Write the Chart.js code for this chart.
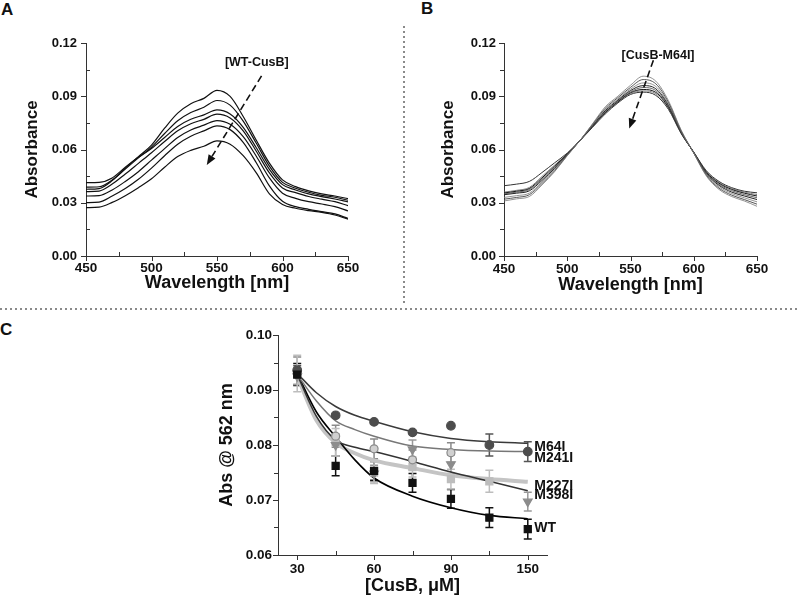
<!DOCTYPE html>
<html><head><meta charset="utf-8">
<script src="https://cdn.jsdelivr.net/npm/chart.js@4.4.1/dist/chart.umd.min.js"></script>
<style>
html,body{margin:0;padding:0;background:#fff;}
body{width:800px;height:597px;position:relative;overflow:hidden;font-family:"Liberation Sans",Arial,sans-serif;}
canvas{position:absolute;}
.lab{position:absolute;font-weight:bold;font-size:17px;line-height:17px;color:#111;}
.vdot{position:absolute;left:403px;top:26px;width:2px;height:280px;background:repeating-linear-gradient(to bottom,#8a8a8a 0 2px,transparent 2px 5px);}
.hdot{position:absolute;left:0;top:308px;width:800px;height:2px;background:repeating-linear-gradient(to right,#8a8a8a 0 2px,transparent 2px 5px);}
</style></head>
<body>
<div class="lab" style="left:1px;top:1px">A</div>
<div class="lab" style="left:421px;top:0px">B</div>
<div class="lab" style="left:0px;top:321px">C</div>
<div class="vdot"></div>
<div class="hdot"></div>
<canvas id="cA" width="400" height="300" style="left:0;top:0"></canvas>
<canvas id="cB" width="400" height="300" style="left:400px;top:0"></canvas>
<canvas id="cC" width="400" height="277" style="left:200px;top:320px"></canvas>
<script>
// ---------- Data ----------
const wavelengths = [450,460,470,480,490,500,510,520,530,540,550,560,570,580,590,600,610,620,630,640,650];
// Panel A: WT-CusB titration spectra (absorbance)
const wtSpec1 = [0.0376,0.0380,0.0425,0.0495,0.0560,0.0625,0.0720,0.0805,0.0858,0.0888,0.0933,0.0899,0.0786,0.0652,0.0523,0.0429,0.0391,0.0367,0.0350,0.0338,0.0323];
const wtSpec2 = [0.0388,0.0390,0.0428,0.0490,0.0553,0.0613,0.0690,0.0762,0.0808,0.0838,0.0876,0.0850,0.0760,0.0635,0.0506,0.0415,0.0382,0.0359,0.0342,0.0331,0.0314];
const wtSpec3 = [0.0413,0.0415,0.0440,0.0500,0.0556,0.0606,0.0668,0.0730,0.0770,0.0795,0.0823,0.0800,0.0725,0.0610,0.0488,0.0402,0.0372,0.0350,0.0335,0.0321,0.0305];
const wtSpec4 = [0.0363,0.0366,0.0405,0.0462,0.0522,0.0582,0.0645,0.0705,0.0745,0.0770,0.0799,0.0778,0.0705,0.0590,0.0468,0.0383,0.0357,0.0335,0.0320,0.0306,0.0284];
const wtSpec5 = [0.0338,0.0340,0.0372,0.0420,0.0475,0.0540,0.0605,0.0668,0.0710,0.0737,0.0763,0.0742,0.0672,0.0562,0.0440,0.0354,0.0325,0.0306,0.0293,0.0278,0.0254];
const wtSpec6 = [0.0301,0.0304,0.0338,0.0380,0.0432,0.0495,0.0565,0.0630,0.0675,0.0705,0.0733,0.0712,0.0640,0.0525,0.0395,0.0308,0.0278,0.0263,0.0250,0.0237,0.0212];
const wtSpec7 = [0.0272,0.0275,0.0302,0.0340,0.0385,0.0435,0.0500,0.0560,0.0595,0.0618,0.0649,0.0630,0.0565,0.0468,0.0350,0.0290,0.0269,0.0256,0.0246,0.0231,0.0207];
// Panel B: CusB-M64I titration spectra
const m64Spec1 = [0.0310,0.0322,0.0335,0.0400,0.0475,0.0565,0.0650,0.0745,0.0840,0.0900,0.0962,0.1013,0.0985,0.0875,0.0710,0.0580,0.0450,0.0375,0.0335,0.0310,0.0280];
const m64Spec2 = [0.0320,0.0330,0.0345,0.0408,0.0480,0.0567,0.0650,0.0742,0.0832,0.0892,0.0950,0.0994,0.0970,0.0866,0.0706,0.0580,0.0455,0.0382,0.0343,0.0318,0.0292];
const m64Spec3 = [0.0330,0.0340,0.0354,0.0416,0.0487,0.0569,0.0650,0.0738,0.0825,0.0884,0.0940,0.0975,0.0955,0.0857,0.0702,0.0581,0.0460,0.0390,0.0352,0.0328,0.0305];
const m64Spec4 = [0.0345,0.0354,0.0367,0.0425,0.0494,0.0571,0.0650,0.0735,0.0818,0.0878,0.0932,0.0960,0.0942,0.0849,0.0699,0.0582,0.0464,0.0398,0.0360,0.0338,0.0318];
const m64Spec5 = [0.0350,0.0360,0.0374,0.0432,0.0500,0.0573,0.0650,0.0732,0.0812,0.0873,0.0925,0.0949,0.0932,0.0843,0.0697,0.0583,0.0468,0.0404,0.0368,0.0346,0.0328];
const m64Spec6 = [0.0355,0.0365,0.0380,0.0440,0.0506,0.0575,0.0650,0.0730,0.0808,0.0869,0.0920,0.0938,0.0922,0.0837,0.0695,0.0584,0.0472,0.0410,0.0375,0.0354,0.0338];
const m64Spec7 = [0.0360,0.0370,0.0386,0.0448,0.0512,0.0577,0.0650,0.0728,0.0805,0.0866,0.0915,0.0930,0.0914,0.0832,0.0693,0.0585,0.0476,0.0415,0.0380,0.0360,0.0346];
const m64Spec8 = [0.0396,0.0405,0.0420,0.0470,0.0525,0.0580,0.0650,0.0725,0.0800,0.0862,0.0910,0.0923,0.0905,0.0826,0.0690,0.0585,0.0480,0.0420,0.0385,0.0365,0.0356];
// Panel C: Abs @ 562 nm vs [CusB]
const concLabels = ['30','45','60','75','90','120','150'];
const shownLabels = ['30','','60','','90','','150'];
const concIdx = [0,1,2,3,4,5,6];
const wtAbs   = [0.0928,0.0762,0.0753,0.0731,0.0702,0.0668,0.0647];
const wtErr   = [0.0020,0.0018,0.0017,0.0017,0.0017,0.0018,0.0018];
const m64Abs  = [0.0936,0.0854,0.0842,0.0823,0.0835,0.0800,0.0788];
const m64Err  = [0.0008,0,0,0,0,0.0020,0.0018];
const m241Abs = [0.0935,0.0816,0.0793,0.0773,0.0786,null,null];
const m241Err = [0.0025,0.0020,0.0018,0.0018,0.0018,0,0];
const m398Abs = [0.0925,0.0800,0.0748,0.0792,0.0765,null,0.0697];
const m398Err = [0.0015,0.0020,0.0015,0.0017,0.0017,0,0.0017];
const m227Abs = [0.0930,0.0805,0.0750,0.0760,0.0738,0.0734,null];
const m227Err = [0.0033,0.0025,0.0020,0.0018,0.0018,0.0020,0];
// fitted curves read at index positions
const fitIdx  = [0,0.5,1,1.5,2,3,4,5,6];
const wtFit   = [0.0930,0.0860,0.0815,0.0773,0.0740,0.0707,0.0686,0.0672,0.0666];
const m64Fit  = [0.0930,0.0895,0.0870,0.0854,0.0843,0.0824,0.0812,0.0806,0.0803];
const m241Fit = [0.0928,0.0880,0.0844,0.0828,0.0816,0.0798,0.0792,0.0789,0.0788];
const m398Fit = [0.0928,0.0852,0.0809,0.0796,0.0788,0.0770,0.0751,0.0734,0.0717];
const m227Fit = [0.0925,0.0845,0.0804,0.0785,0.0772,0.0758,0.0745,0.0738,0.0733];
const seriesNames = ['M64I','M241I','M227I','M398I','WT'];
const nameY = [0.0797,0.0777,0.0725,0.0708,0.0649];

// ---------- Helpers ----------
const FAM = '"Liberation Sans", Arial, sans-serif';
Chart.defaults.font.family = FAM;
Chart.defaults.color = '#111';
const xy = (xs, ys) => xs.map((x,i)=>({x, y: ys[i]}));

const deco = {
  id: 'deco',
  beforeDatasetsDraw(chart, args, o) {
    const {ctx, scales:{x,y}} = chart;
    ctx.save();
    chart.data.datasets.forEach(ds => {
      if (!ds.errors) return;
      ctx.strokeStyle = ds.errColor; ctx.lineWidth = 1.5;
      ds.data.forEach((p,i) => {
        const e = ds.errors[i];
        if (p.y == null || !e) return;
        const px = x.getPixelForValue(p.x);
        const y1 = y.getPixelForValue(p.y + e), y2 = y.getPixelForValue(p.y - e);
        ctx.beginPath();
        ctx.moveTo(px,y1); ctx.lineTo(px,y2);
        ctx.moveTo(px-4,y1); ctx.lineTo(px+4,y1);
        ctx.moveTo(px-4,y2); ctx.lineTo(px+4,y2);
        ctx.stroke();
      });
    });
    ctx.restore();
  },
  afterDraw(chart, args, o) {
    const {ctx, chartArea:ca, scales:{x,y}} = chart;
    ctx.save();
    ctx.strokeStyle = '#333'; ctx.lineWidth = 1;
    ctx.beginPath();
    (o.yMajor||[]).forEach(v => { const py = Math.round(y.getPixelForValue(v))+0.5; ctx.moveTo(ca.left-5,py); ctx.lineTo(ca.left,py); });
    (o.yMinor||[]).forEach(v => { const py = Math.round(y.getPixelForValue(v))+0.5; ctx.moveTo(ca.left,py); ctx.lineTo(ca.left + (o.yMinorIn?4:-4),py); });
    (o.xMajor||[]).forEach(v => { const px = Math.round(x.getPixelForValue(v))+0.5; ctx.moveTo(px,ca.bottom); ctx.lineTo(px,ca.bottom+5); });
    (o.xMinor||[]).forEach(v => { const px = Math.round(x.getPixelForValue(v))+0.5; ctx.moveTo(px,ca.bottom); ctx.lineTo(px,ca.bottom-4); });
    ctx.stroke();
    (o.texts||[]).forEach(t => {
      ctx.font = t.font; ctx.fillStyle = '#111';
      ctx.textAlign = t.align || 'center'; ctx.textBaseline = 'middle';
      ctx.fillText(t.str, x.getPixelForValue(t.x), y.getPixelForValue(t.y));
    });
    if (o.arrow) {
      const a = o.arrow;
      const x1 = x.getPixelForValue(a.x1), y1 = y.getPixelForValue(a.y1);
      const x2 = x.getPixelForValue(a.x2), y2 = y.getPixelForValue(a.y2);
      const ang = Math.atan2(y2-y1, x2-x1), L = 10, W = 4;
      const bx = x2 - L*Math.cos(ang), by = y2 - L*Math.sin(ang);
      ctx.strokeStyle = '#111'; ctx.lineWidth = 1.6; ctx.setLineDash([7,4]);
      ctx.beginPath(); ctx.moveTo(x1,y1); ctx.lineTo(bx,by); ctx.stroke();
      ctx.setLineDash([]); ctx.fillStyle = '#111';
      ctx.beginPath(); ctx.moveTo(x2,y2);
      ctx.lineTo(bx + W*Math.sin(ang), by - W*Math.cos(ang));
      ctx.lineTo(bx - W*Math.sin(ang), by + W*Math.cos(ang));
      ctx.closePath(); ctx.fill();
    }
    ctx.restore();
  }
};

function spectrumChart(id, spectra, colors, widths, o) {
  return new Chart(document.getElementById(id), {
    type: 'line',
    data: { datasets: spectra.map((s,i) => ({
      data: xy(wavelengths, s), borderColor: colors[i], borderWidth: widths[i],
      pointRadius: 0, fill: false, cubicInterpolationMode: 'monotone'
    })) },
    options: {
      responsive: false, animation: false, devicePixelRatio: 1,
      layout: { padding: { left: 0, top: 43, right: o.padRight, bottom: 0 } },
      plugins: { legend: {display:false}, tooltip: {enabled:false},
        deco: { yMajor:[0,0.03,0.06,0.09,0.12], yMinor:[0.015,0.045,0.075,0.105], yMinorIn: o.yMinorIn,
                xMajor:[450,500,550,600,650], xMinor:[475,525,575,625],
                texts:[{str:o.text, x:o.tx, y:o.ty, font:'bold 12.5px '+FAM}], arrow:o.arrow } },
      scales: {
        x: { type:'linear', min:450, max:650,
             afterFit: s => { s.height = 44; },
             grid:{display:false, drawTicks:false}, border:{display:true, color:'#333', width:1},
             ticks:{ stepSize:50, padding:o.xPad, font:{size:13.5, weight:'bold'}, color:'#111', maxRotation:0 },
             title:{display:true, text:'Wavelength [nm]', font:{size:18, weight:'bold'}, color:'#111', padding:{top:0,bottom:o.xTitlePad}} },
        y: { min:0, max:0.12,
             afterFit: s => { s.width = o.yWidth; },
             grid:{display:false, drawTicks:false}, border:{display:true, color:'#333', width:1},
             ticks:{ stepSize:0.03, padding:o.yPad, font:{size:13, weight:'bold'}, color:'#111', callback: v => v.toFixed(2) },
             title:{display:true, text:'Absorbance', font:{size:17, weight:'bold'}, color:'#111', padding:{top:o.yTitlePad,bottom:0}} }
      }
    },
    plugins: [deco]
  });
}

spectrumChart('cA', [wtSpec1,wtSpec2,wtSpec3,wtSpec4,wtSpec5,wtSpec6,wtSpec7],
  ['#111','#111','#111','#111','#111','#111','#111'], [1.2,1.2,1.2,1.2,1.2,1.2,1.2],
  { padRight:52, yWidth:86, yPad:9, xPad:4, xTitlePad:6, yTitlePad:22, yMinorIn:true,
    text:'[WT-CusB]', tx:580.4, ty:0.1088, arrow:{x1:584, y1:0.1015, x2:542.2, y2:0.0513} });

spectrumChart('cB', [m64Spec1,m64Spec2,m64Spec3,m64Spec4,m64Spec5,m64Spec6,m64Spec7,m64Spec8],
  ['#777','#444','#777','#222','#555','#111','#666','#333'], [0.8,0.9,0.8,1,0.9,1,0.8,1],
  { padRight:43, yWidth:104, yPad:8, xPad:5, xTitlePad:4, yTitlePad:38, yMinorIn:false,
    text:'[CusB-M64I]', tx:571.8, ty:0.1131, arrow:{x1:568.1, y1:0.1103, x2:549.0, y2:0.0718} });

// Panel C
const pts = (vals, errs, style, fill, stroke, radius, errColor, rot) => ({
  type:'scatter', data: xy(concIdx, vals), errors: errs, errColor,
  pointStyle: style, pointRotation: rot || 0, pointRadius: radius, pointBackgroundColor: fill,
  pointBorderColor: stroke, pointBorderWidth: 1.2, showLine:false, order:0
});
const fit = (vals, color, width) => ({
  type:'line', data: xy(fitIdx, vals), borderColor: color, borderWidth: width,
  pointRadius: 0, fill:false, cubicInterpolationMode:'monotone', order:1
});

new Chart(document.getElementById('cC'), {
  type: 'scatter',
  data: { datasets: [
    pts(wtAbs,   wtErr,   'rect',     '#111', '#111', 5,   '#111'),
    pts(m64Abs,  m64Err,  'circle',   '#4d4d4d', '#4d4d4d', 4.3, '#555'),
    pts(m241Abs, m241Err, 'circle',   '#d0d0d0', '#8a8a8a', 4, '#8a8a8a'),
    pts(m398Abs, m398Err, 'triangle', '#8c8c8c', '#8c8c8c', 5, '#999', 180),
    pts(m227Abs, m227Err, 'rect',     '#bdbdbd', '#bdbdbd', 5, '#bdbdbd'),
    fit(m64Fit,  '#3a3a3a', 1.5),
    fit(m241Fit, '#777777', 1.5),
    fit(m398Fit, '#333333', 1.5),
    fit(wtFit,   '#000000', 1.6),
    fit(m227Fit, '#c4c4c4', 4)
  ] },
  options: {
    responsive:false, animation:false, devicePixelRatio:1,
    layout:{ padding:{ left:0, top:15, right:53, bottom:0 } },
    plugins:{ legend:{display:false}, tooltip:{enabled:false},
      deco:{ yMajor:[0.06,0.07,0.08,0.09,0.10], yMinor:[0.065,0.075,0.085,0.095], yMinorIn:false,
             xMajor:[0,2,4,6], xMinor:[1,3,5],
             texts: seriesNames.map((n,i)=>({str:n, x:6.17, y:nameY[i], align:'left', font:'bold 14px '+FAM})) } },
    scales:{
      x:{ type:'linear', min:-0.5, max:6.5,
          afterFit: s => { s.height = 42; },
          afterBuildTicks: s => { s.ticks = concIdx.map(v => ({value:v})); },
          grid:{display:false, drawTicks:false}, border:{display:true, color:'#333', width:1},
          ticks:{ padding:6, font:{size:13.5, weight:'bold'}, color:'#111', maxRotation:0, autoSkip:false,
                  callback: v => shownLabels[v] },
          title:{display:true, text:'[CusB, μM]', font:{size:18, weight:'bold'}, color:'#111', padding:{top:0,bottom:0}} },
      y:{ min:0.06, max:0.10,
          afterFit: s => { s.width = 78; },
          grid:{display:false, drawTicks:false}, border:{display:true, color:'#333', width:1},
          ticks:{ stepSize:0.01, padding:6, font:{size:13.5, weight:'bold'}, color:'#111', callback: v => v.toFixed(2) },
          title:{display:true, text:'Abs @ 562 nm', font:{size:18, weight:'bold'}, color:'#111', padding:{top:16,bottom:0}} }
    }
  },
  plugins:[deco]
});
</script>
</body></html>
